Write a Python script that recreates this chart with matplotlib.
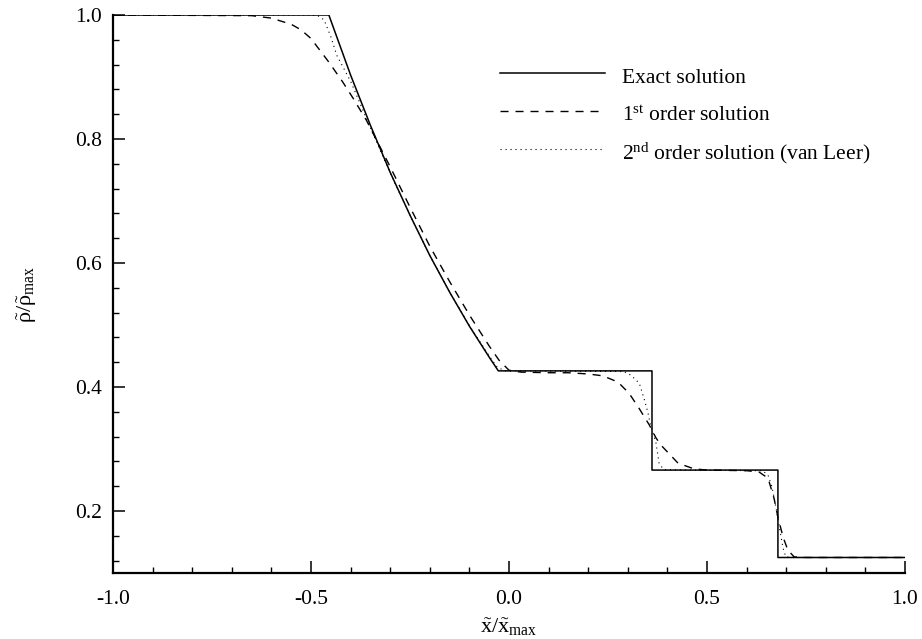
import matplotlib as mpl
import matplotlib.pyplot as plt
from matplotlib.ticker import MultipleLocator

mpl.rcParams['font.family'] = 'Liberation Serif'
mpl.rcParams['mathtext.fontset'] = 'custom'
mpl.rcParams['mathtext.rm'] = 'Liberation Serif'
mpl.rcParams['mathtext.it'] = 'Liberation Serif:italic'
mpl.rcParams['mathtext.default'] = 'rm'

# exact solution (rarefaction fan, contact, shock)
x_exact = [-1.0, -0.455, -0.40, -0.35, -0.30, -0.25, -0.20, -0.15, -0.10,
           -0.05, -0.027, 0.361, 0.361, 0.679, 0.679, 1.0]
rho_exact = [1.0, 1.0, 0.903, 0.822, 0.746, 0.677, 0.612, 0.553, 0.498,
             0.448, 0.426, 0.426, 0.266, 0.266, 0.125, 0.125]

# 1st order solution
x_first = [-1.0, -0.65, -0.60, -0.55, -0.525, -0.50, -0.455, -0.42, -0.394,
           -0.36, -0.30, -0.25, -0.20, -0.15, -0.10, -0.05, -0.025, 0.0,
           0.03, 0.10, 0.15, 0.20, 0.237, 0.275, 0.303, 0.328, 0.354, 0.371,
           0.384, 0.427, 0.467, 0.50, 0.60, 0.631, 0.654, 0.669, 0.679,
           0.692, 0.704, 0.720, 0.75, 1.0]
rho_first = [1.0, 0.999, 0.995, 0.985, 0.976, 0.962, 0.924, 0.892, 0.866,
             0.830, 0.755, 0.690, 0.627, 0.570, 0.516, 0.466, 0.443, 0.427,
             0.424, 0.423, 0.423, 0.421, 0.418, 0.408, 0.390, 0.366, 0.339,
             0.318, 0.306, 0.277, 0.268, 0.266, 0.265, 0.263, 0.253, 0.221,
             0.190, 0.158, 0.137, 0.126, 0.125, 0.125]

# 2nd order solution (van Leer)
x_second = [-1.0, -0.50, -0.48, -0.467, -0.45, -0.435, -0.40, -0.35, -0.30,
            -0.25, -0.20, -0.15, -0.10, -0.05, -0.03, -0.01, 0.29, 0.308,
            0.329, 0.342, 0.351, 0.356, 0.371, 0.379, 0.39, 0.45, 0.64,
            0.654, 0.664, 0.674, 0.684, 0.692, 0.699, 0.72, 1.0]
rho_second = [1.0, 1.0, 0.998, 0.992, 0.965, 0.935, 0.893, 0.818, 0.745,
              0.677, 0.612, 0.553, 0.499, 0.450, 0.432, 0.426, 0.425, 0.419,
              0.406, 0.379, 0.358, 0.342, 0.310, 0.277, 0.267, 0.266, 0.265,
              0.258, 0.239, 0.206, 0.169, 0.140, 0.126, 0.125, 0.125]

fig = plt.figure(figsize=(9.22, 6.39), dpi=100)
ax = fig.add_axes([0.1226, 0.1033, 0.859, 0.8732])

ax.plot(x_exact, rho_exact, color='black', lw=1.1, label='Exact solution')
ax.plot(x_first, rho_first, color='black', lw=1.0, dashes=(5.8, 5.0),
        label=r'1$^{\mathrm{st}}$ order solution')
ax.plot(x_second, rho_second, color='black', lw=0.8, dashes=(1.0, 3.5),
        label=r'2$^{\mathrm{nd}}$ order solution (van Leer)')

ax.set_xlim(-1.0, 1.0)
ax.set_ylim(0.1, 1.0)
ax.xaxis.set_major_locator(MultipleLocator(0.5))
ax.xaxis.set_minor_locator(MultipleLocator(0.1))
ax.yaxis.set_major_locator(MultipleLocator(0.2))
ax.yaxis.set_minor_locator(MultipleLocator(0.04))
ax.xaxis.set_major_formatter(plt.FormatStrFormatter('%.1f'))
ax.yaxis.set_major_formatter(plt.FormatStrFormatter('%.1f'))

for side in ['top', 'right']:
    ax.spines[side].set_visible(False)
for side in ['left', 'bottom']:
    ax.spines[side].set_linewidth(1.6)
    ax.spines[side].set_zorder(5)

ax.tick_params(which='major', direction='in', length=8.6, width=1.1,
               labelsize=15.5, pad=8)
ax.tick_params(which='minor', direction='in', length=4.3, width=1.0)
ax.tick_params(axis='x', which='major', pad=12)

ax.set_xlabel(r'$\tilde{\mathrm{x}}/\tilde{\mathrm{x}}_{\mathrm{max}}$',
              fontsize=16, labelpad=5)
ax.set_ylabel(r'$\tilde{\rho}/\tilde{\rho}_{\mathrm{max}}$',
              fontsize=16, labelpad=26)

ax.legend(loc='upper left', bbox_to_anchor=(0.542, 0.902),
          bbox_transform=fig.transFigure, frameon=False, fontsize=15.5,
          handlelength=4.9, handletextpad=0.8, handleheight=1.5,
          labelspacing=0.55, borderpad=0, borderaxespad=0)

fig.savefig('out.png', dpi=100)
